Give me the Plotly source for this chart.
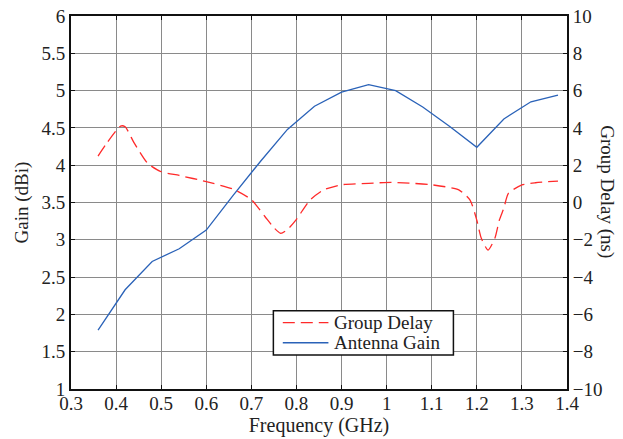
import plotly.graph_objects as go

# Antenna gain (left axis, dBi)
freq_gain = [0.36, 0.42, 0.48, 0.54, 0.60, 0.66, 0.72, 0.78, 0.84, 0.90, 0.96,
             1.02, 1.08, 1.14, 1.20, 1.26, 1.32, 1.38]
gain = [1.79, 2.33, 2.71, 2.88, 3.13, 3.60, 4.05, 4.48, 4.79, 4.98, 5.08,
        5.00, 4.78, 4.52, 4.24, 4.62, 4.85, 4.94]

# Group delay (right axis, ns)
freq_gd = [0.36, 0.38, 0.41, 0.42, 0.44, 0.47, 0.50, 0.54, 0.60, 0.66, 0.70,
           0.73, 0.75, 0.765, 0.78, 0.80, 0.83, 0.86, 0.90, 0.96, 1.01, 1.05,
           1.10, 1.16, 1.185, 1.20, 1.21, 1.225, 1.24, 1.25, 1.26, 1.27, 1.30,
           1.33, 1.38]
group_delay = [2.49, 3.2, 4.1, 4.06, 3.2, 2.1, 1.65, 1.45, 1.12, 0.71, 0.15,
               -0.75, -1.35, -1.65, -1.45, -0.9, 0.13, 0.67, 0.95, 1.03, 1.08, 1.04,
               0.95, 0.68, 0.13, -0.95, -1.92, -2.55, -1.92, -0.94, -0.3, 0.49, 0.94,
               1.06, 1.15]

series_names = ["Group Delay", "Antenna Gain"]

x_ticks = [0.3, 0.4, 0.5, 0.6, 0.7, 0.8, 0.9, 1.0, 1.1, 1.2, 1.3, 1.4]
x_labels = ["0.3", "0.4", "0.5", "0.6", "0.7", "0.8", "0.9", "1", "1.1", "1.2", "1.3", "1.4"]
y_ticks = [1, 1.5, 2, 2.5, 3, 3.5, 4, 4.5, 5, 5.5, 6]
y_labels = ["1", "1.5", "2", "2.5", "3", "3.5", "4", "4.5", "5", "5.5", "6"]
y2_ticks = [-10, -8, -6, -4, -2, 0, 2, 4, 6, 8, 10]
y2_labels = ["\u221210", "\u22128", "\u22126", "\u22124", "\u22122", "0", "2", "4", "6", "8", "10"]

FONT = "Liberation Serif"
TXT = "#222222"
RED = "#ff2a2a"
BLUE = "#2a62b8"
DASH = "12px,6px"

fig = go.Figure()
fig.add_trace(go.Scatter(
    x=freq_gd, y=group_delay, yaxis="y2", name=series_names[0], mode="lines",
    line=dict(color=RED, width=1.3, dash=DASH, shape="spline", smoothing=0.6),
))
fig.add_trace(go.Scatter(
    x=freq_gain, y=gain, name=series_names[1], mode="lines",
    line=dict(color=BLUE, width=1.3),
))

axis_common = dict(
    showline=True, linecolor="#111111", linewidth=2,
    ticks="inside", ticklen=4, tickcolor="#111111",
    tickfont=dict(family=FONT, size=19, color=TXT),
    zeroline=False, automargin=False, ticklabeloverflow="allow",
)

# Legend box (drawn in paper coordinates)
lg_x0, lg_x1, lg_y0, lg_y1 = 0.408, 0.771, 0.091, 0.210
row_y = [0.178, 0.124]
sample_x0, sample_x1, text_x = 0.427, 0.519, 0.526

shapes = [dict(type="rect", xref="paper", yref="paper", x0=lg_x0, x1=lg_x1, y0=lg_y0, y1=lg_y1,
               line=dict(color="#111111", width=1.5), fillcolor="white", layer="above")]
shapes.append(dict(type="line", xref="paper", yref="paper", x0=sample_x0, x1=sample_x1,
                   y0=row_y[0], y1=row_y[0], line=dict(color=RED, width=1.3, dash=DASH), layer="above"))
shapes.append(dict(type="line", xref="paper", yref="paper", x0=sample_x0, x1=sample_x1,
                   y0=row_y[1], y1=row_y[1], line=dict(color=BLUE, width=1.3), layer="above"))

annotations = [dict(
    text=name, xref="paper", yref="paper", x=text_x, y=yy, xanchor="left", yanchor="middle",
    showarrow=False, font=dict(family=FONT, size=19, color=TXT),
) for name, yy in zip(series_names, row_y)]
annotations.append(dict(
    text="Group Delay (ns)", xref="paper", yref="paper",
    x=1.0, xanchor="center", xshift=40, y=0.53, yanchor="middle", textangle=90, showarrow=False,
    font=dict(family=FONT, size=19, color=TXT),
))

fig.update_layout(
    width=615, height=431,
    margin=dict(l=63, r=56, t=8, b=50),
    paper_bgcolor="white", plot_bgcolor="white",
    font=dict(family=FONT, color=TXT),
    xaxis=dict(
        range=[0.3, 1.4], tickmode="array", tickvals=x_ticks, ticktext=x_labels,
        tickangle=0, ticklabelstandoff=-4,
        showgrid=True, gridcolor="#8a8a8a", gridwidth=1, mirror="ticks",
        title=dict(text="Frequency (GHz)", font=dict(family=FONT, size=20, color=TXT), standoff=4),
        **axis_common,
    ),
    yaxis=dict(
        range=[1, 6], tickmode="array", tickvals=y_ticks, ticktext=y_labels,
        showgrid=True, gridcolor="#8a8a8a", gridwidth=1,
        title=dict(text="Gain (dBi)", font=dict(family=FONT, size=19, color=TXT), standoff=8),
        **axis_common,
    ),
    yaxis2=dict(
        range=[-10, 10], tickmode="array", tickvals=y2_ticks, ticktext=y2_labels,
        overlaying="y", side="right",
        showgrid=False,
        **axis_common,
    ),
    showlegend=False,
    shapes=shapes,
    annotations=annotations,
)

fig.write_html("out.html")
